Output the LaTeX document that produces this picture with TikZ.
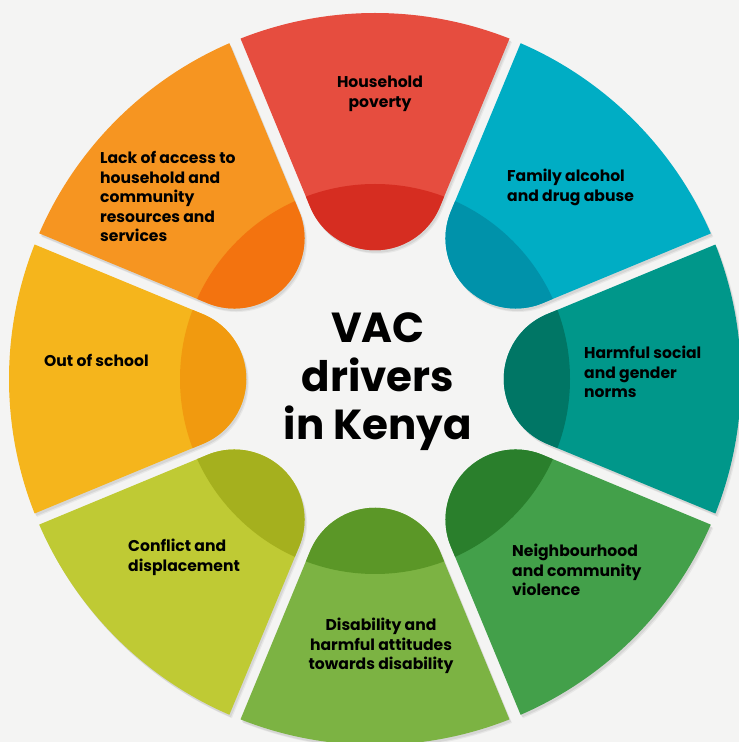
\documentclass[tikz,border=0pt]{standalone}
\usepackage{fontspec}
\setmainfont{Poppins}
\definecolor{bg}{HTML}{F4F4F3}
\definecolor{redL}{HTML}{E64D3F}\definecolor{redD}{HTML}{D62D21}
\definecolor{bluL}{HTML}{00ADC4}\definecolor{bluD}{HTML}{0092AA}
\definecolor{teaL}{HTML}{00978A}\definecolor{teaD}{HTML}{007665}
\definecolor{grnL}{HTML}{43A04A}\definecolor{grnD}{HTML}{2A7F2C}
\definecolor{lgrL}{HTML}{7CB343}\definecolor{lgrD}{HTML}{5B9727}
\definecolor{ygrL}{HTML}{BFCA34}\definecolor{ygrD}{HTML}{A5B01E}
\definecolor{yelL}{HTML}{F5B51C}\definecolor{yelD}{HTML}{F19A0F}
\definecolor{orgL}{HTML}{F69521}\definecolor{orgD}{HTML}{F3730F}
\newcommand\segpath{(134.5,340.4) arc[start angle=68.44, end angle=111.56, radius=366] -- (-64.85,172.1) arc[start angle=202.5, end angle=337.5, radius=70.2] -- cycle}
\newcommand\segshadow[1]{%
  \begin{scope}[shift={(376.5,360.5)},rotate=#1-90]
    \fill[black,opacity=0.07] \segpath;
  \end{scope}
  \begin{scope}[shift={(377.5,359.5)},rotate=#1-90]
    \fill[black,opacity=0.05] \segpath;
  \end{scope}}
\newcommand\segment[3]{%
  \begin{scope}[shift={(375,363)},rotate=#1-90]
    \fill[#2] \segpath;
    \begin{scope}
      \clip \segpath;
      \fill[#3] (0,0) circle[radius=195];
    \end{scope}
  \end{scope}}
\tikzset{
  lbl/.style={font=\fontsize{15.6}{19.5}\selectfont\bfseries, text=black, inner sep=0pt},
  lblL/.style={lbl, align=left, anchor=base west},
  lblC/.style={lbl, align=center, anchor=base},
  title/.style={font=\fontsize{42}{49}\selectfont\bfseries, text=black, inner sep=0pt, anchor=base}
}
\begin{document}
\begin{tikzpicture}[x=1pt,y=1pt]
\fill[bg] (0,0) rectangle (739,742);
\useasboundingbox (0,0) rectangle (739,742);
\foreach \a in {90,45,0,-45,-90,-135,180,135} {\segshadow{\a}}
\segment{90}{redL}{redD}
\segment{45}{bluL}{bluD}
\segment{0}{teaL}{teaD}
\segment{-45}{grnL}{grnD}
\segment{-90}{lgrL}{lgrD}
\segment{-135}{ygrL}{ygrD}
\segment{180}{yelL}{yelD}
\segment{135}{orgL}{orgD}
\node[lblC] (poverty) at (380,634.5) {Household\\poverty};
\node[lblL] (alcohol) at (507,540.5) {Family alcohol\\and drug abuse};
\node[lblL] (norms) at (584,344) {Harmful social\\and gender\\norms};
\node[lblL] (violence) at (512,146) {Neighbourhood\\and community\\violence};
\node[lblC] (disability) at (381,72) {Disability and\\harmful attitudes\\towards disability};
\node[lblL] (conflict) at (128,170.5) {Conflict and\\displacement};
\node[lblL] (school) at (44,375) {Out of school};
\node[lblL] (access) at (100,500) {Lack of access to\\household and\\community\\resources and\\services};
\node[title] (t1) at (378,399) {VAC};
\node[title] (t2) at (378,350) {drivers};
\node[title] (t3) at (378,302) {in Kenya};
\end{tikzpicture}
\end{document}
